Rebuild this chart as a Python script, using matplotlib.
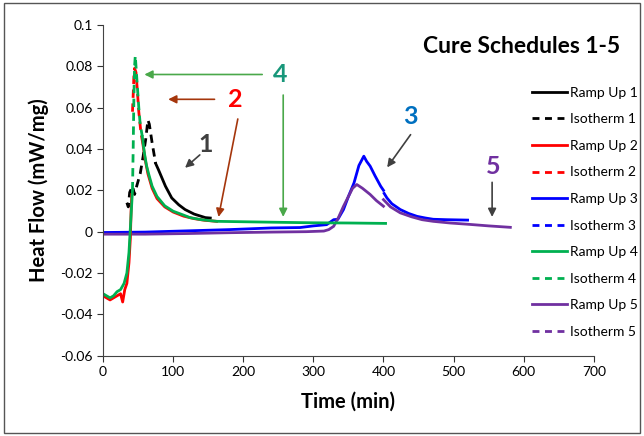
import matplotlib
matplotlib.use("Agg")
import matplotlib.pyplot as plt
from matplotlib.lines import Line2D
from matplotlib.patches import Rectangle
import numpy as np

plt.rcParams['font.family'] = ['Lato', 'DejaVu Sans']

# ---- data (time in min, heat flow in mW/mg) ----
# schedule 1
t_iso1 = [34, 36, 38, 42, 45, 48, 53, 57, 61, 64, 66, 70, 75]
hf_iso1 = [0.014, 0.012, 0.019, 0.022, 0.018, 0.022, 0.028, 0.036, 0.045, 0.054, 0.052, 0.043, 0.033]
t_ramp1 = [75, 79, 84, 89, 98, 108, 117, 130, 146, 153]
hf_ramp1 = [0.033, 0.030, 0.026, 0.022, 0.0163, 0.013, 0.0107, 0.0085, 0.0068, 0.0066]

# schedule 2
t_ramp2 = [0, 5, 10, 15, 20, 25, 28, 31, 34, 37, 39, 40, 41]
hf_ramp2 = [-0.031, -0.032, -0.033, -0.032, -0.031, -0.030, -0.034, -0.028, -0.025, -0.015, -0.003, 0.010, 0.018]
t_iso2 = [42, 43, 44, 45, 47, 49, 51, 54, 57]
hf_iso2 = [0.058, 0.066, 0.075, 0.079, 0.077, 0.068, 0.058, 0.048, 0.042]
t_tail2 = [57, 60, 64, 70, 77, 88, 100, 115, 130, 145, 162]
hf_tail2 = [0.042, 0.035, 0.028, 0.021, 0.016, 0.012, 0.0095, 0.0075, 0.0063, 0.0055, 0.0050]

# schedule 3
t_ramp3 = [0, 60, 120, 180, 240, 281, 300, 319, 329, 335, 343, 350, 358, 365, 372, 376, 381, 388, 396, 400]
hf_ramp3 = [-0.0004, -0.0002, 0.0004, 0.001, 0.0018, 0.002, 0.0028, 0.0034, 0.0058, 0.006, 0.0107, 0.017,
            0.0236, 0.032, 0.0365, 0.034, 0.0317, 0.027, 0.022, 0.020]
t_iso3 = [401, 405, 412, 424, 436, 448, 460, 471, 490, 520]
hf_iso3 = [0.0185, 0.0163, 0.0135, 0.0107, 0.0088, 0.0074, 0.0066, 0.006, 0.0058, 0.0056]

# schedule 4
t_ramp4 = [0, 5, 10, 15, 20, 25, 30, 34, 37, 39, 41, 42]
hf_ramp4 = [-0.030, -0.031, -0.032, -0.031, -0.029, -0.028, -0.025, -0.020, -0.010, 0.002, 0.014, 0.020]
t_iso4 = [42, 43, 44, 45, 46, 47, 49, 51, 53, 56]
hf_iso4 = [0.020, 0.040, 0.065, 0.080, 0.085, 0.080, 0.070, 0.060, 0.052, 0.046]
t_tail4 = [56, 59, 62, 65, 70, 77, 88, 100, 115, 124, 140, 162, 200, 257, 300, 350, 403]
hf_tail4 = [0.046, 0.038, 0.032, 0.028, 0.022, 0.017, 0.0125, 0.0099, 0.008, 0.0068, 0.0058, 0.0050,
            0.0048, 0.0045, 0.0043, 0.0042, 0.0040]

# schedule 5
t_ramp5 = [0, 60, 120, 180, 240, 290, 315, 322, 329, 336, 343, 350, 356, 362, 370, 381, 390, 400]
hf_ramp5 = [-0.0012, -0.0012, -0.0009, -0.0005, -0.0002, 0.0, 0.0003, 0.001, 0.0026, 0.007, 0.0123, 0.017,
            0.021, 0.0228, 0.021, 0.018, 0.015, 0.0123]
t_iso5 = [400, 410, 424, 440, 455, 471, 495, 520, 550, 581]
hf_iso5 = [0.0155, 0.012, 0.0091, 0.0072, 0.0058, 0.005, 0.0042, 0.0036, 0.0028, 0.0021]

names = ['Ramp Up 1', 'Isotherm 1', 'Ramp Up 2', 'Isotherm 2', 'Ramp Up 3',
         'Isotherm 3', 'Ramp Up 4', 'Isotherm 4', 'Ramp Up 5', 'Isotherm 5']
colors = ['black', '#ff0000', '#0000ff', '#00b050', '#7030a0']

fig = plt.figure(figsize=(6.44, 4.36), dpi=100)
ax = fig.add_axes([0.16, 0.184, 0.762, 0.759])
lw = 2.0

# draw
ax.plot(t_ramp3, hf_ramp3, color=colors[2], lw=lw)
ax.plot(t_iso3, hf_iso3, color=colors[2], lw=lw)
ax.plot(t_ramp5, hf_ramp5, color=colors[4], lw=lw)
ax.plot(t_iso5, hf_iso5, color=colors[4], lw=lw)
ax.plot(t_ramp1, hf_ramp1, color=colors[0], lw=lw)
ax.plot(t_iso1, hf_iso1, color=colors[0], lw=lw, ls=(0, (3, 2)))
ax.plot(t_ramp2, hf_ramp2, color=colors[1], lw=lw)
ax.plot(t_tail2, hf_tail2, color=colors[1], lw=lw)
ax.plot(t_iso2, hf_iso2, color=colors[1], lw=lw, ls=(0, (3, 2)))
ax.plot(t_ramp4, hf_ramp4, color=colors[3], lw=lw)
ax.plot(t_tail4, hf_tail4, color=colors[3], lw=lw)
ax.plot(t_iso4, hf_iso4, color=colors[3], lw=lw, ls=(0, (3, 2)))

ax.set_xlim(0, 700)
ax.set_ylim(-0.06, 0.1)
ax.set_xticks(np.arange(0, 701, 100))
yt = [-0.06, -0.04, -0.02, 0, 0.02, 0.04, 0.06, 0.08, 0.1]
ax.set_yticks(yt)
ax.set_yticklabels(['-0.06', '-0.04', '-0.02', '0', '0.02', '0.04', '0.06', '0.08', '0.1'])
ax.tick_params(direction='out', length=4, width=0.8, labelsize=10, colors='#333333', labelcolor='black')
for s in ['top', 'right']:
    ax.spines[s].set_visible(False)
for s in ['left', 'bottom']:
    ax.spines[s].set_color('#444444')
ax.set_xlabel('Time (min)', fontsize=14.5, fontweight='bold', labelpad=10)
ax.set_ylabel('Heat Flow (mW/mg)', fontsize=14.5, fontweight='bold', labelpad=8)

# legend
handles = []
for i in range(10):
    c = colors[i // 2]
    handles.append(Line2D([], [], color=c, lw=lw, ls='-' if i % 2 == 0 else (0, (2.5, 2))))
fig.legend(handles, names, loc='upper left', bbox_to_anchor=(0.807, 0.83), frameon=False,
           fontsize=10, handlelength=2.5, handletextpad=0.2, labelspacing=1.05)

fig.text(0.963, 0.893, 'Cure Schedules 1-5', ha='right', va='center', fontsize=16.5, fontweight='bold')

# annotations
def arrow(x0, y0, x1, y1, c):
    ax.annotate('', xy=(x1, y1), xytext=(x0, y0),
                arrowprops=dict(arrowstyle='-|>', color=c, lw=1.2, mutation_scale=12))

ax.text(253, 0.076, '4', color='#18977a', fontsize=18, fontweight='bold', ha='center', va='center')
arrow(231, 0.076, 55, 0.076, '#4aa84a')
arrow(257, 0.0674, 257, 0.0058, '#4aa84a')
ax.text(189, 0.064, '2', color='#ff0000', fontsize=18, fontweight='bold', ha='center', va='center')
arrow(163, 0.064, 89, 0.064, '#a5360c')
arrow(193, 0.0558, 164, 0.0058, '#a5360c')
ax.text(147, 0.042, '1', color='#404040', fontsize=18, fontweight='bold', ha='center', va='center')
arrow(141, 0.038, 114, 0.030, '#404040')
ax.text(439, 0.0558, '3', color='#0070c0', fontsize=18, fontweight='bold', ha='center', va='center')
arrow(441, 0.048, 403, 0.030, '#404040')
ax.text(557, 0.0315, '5', color='#7030a0', fontsize=18, fontweight='bold', ha='center', va='center')
arrow(555, 0.0252, 555, 0.0058, '#404040')

fig.patches.append(Rectangle((0.006, 0.007), 0.988, 0.986, transform=fig.transFigure,
                             fill=False, edgecolor='#555555', lw=1))

fig.savefig('out.png', dpi=100)
